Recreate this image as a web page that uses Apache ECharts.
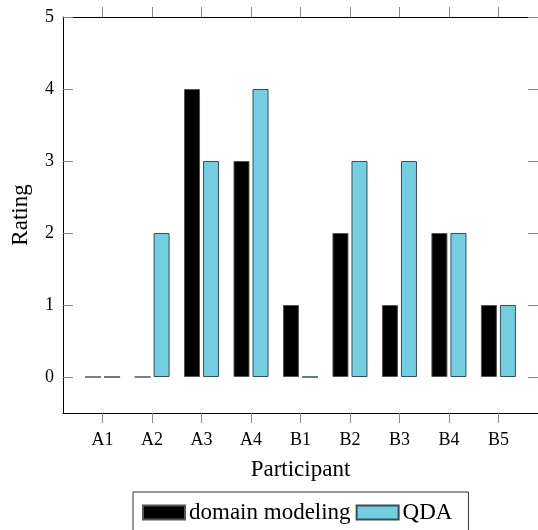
<!DOCTYPE html>
<html><head><meta charset="utf-8">
<script src="https://cdn.jsdelivr.net/npm/echarts@6/dist/echarts.min.js"></script>
<style>html,body{margin:0;padding:0;background:#fff}#c{width:538px;height:530px}</style>
</head><body><div id="c"></div>
<script>
const categories = ['A1','A2','A3','A4','B1','B2','B3','B4','B5'];
const domainModeling = [0,0,4,3,1,2,1,2,1];
const qda = [0,2,3,4,0,3,3,2,1];
const yTicks = [0,1,2,3,4,5];

const positions = categories.map((c,i)=>i);
const font = 'Liberation Serif';
const tickColor = '#8a8a8a';
const chart = echarts.init(document.getElementById('c'));
chart.setOption({
  animation:false,
  textStyle:{fontFamily:font},
  grid:{left:63, top:17, width:480, height:396},
  legend:{
    top:492, left:133,
    data:['domain modeling','QDA'],
    itemWidth:42, itemHeight:14, itemGap:5,
    padding:[9,16,14,9],
    borderColor:'#333', borderWidth:1,
    textStyle:{fontFamily:font, fontSize:23, color:'#000', padding:[0,0,0,-1]},
    icon:'rect'
  },
  xAxis:[{
    type:'value', min:-0.8, max:8.8, position:'bottom',
    name:'Participant', nameLocation:'middle', nameGap:45,
    nameTextStyle:{fontFamily:font, fontSize:23, color:'#000'},
    axisLine:{show:true, onZero:false, lineStyle:{color:'#000', width:1}},
    axisTick:{show:true, inside:false, length:10, customValues:positions, lineStyle:{color:tickColor}},
    axisLabel:{show:true, customValues:positions, margin:18, fontSize:18, color:'#000', fontFamily:font,
      formatter:v=>categories[Math.round(v)]},
    splitLine:{show:false}
  },{
    type:'value', min:-0.8, max:8.8, position:'top',
    axisLine:{show:true, onZero:false, lineStyle:{color:'#000', width:1}},
    axisTick:{show:true, inside:false, length:10, customValues:positions, lineStyle:{color:tickColor}},
    axisLabel:{show:false},
    splitLine:{show:false}
  }],
  yAxis:[{
    type:'value', min:-0.5, max:5, position:'left',
    name:'Rating', nameLocation:'middle', nameGap:31, nameRotate:90,
    nameTextStyle:{fontFamily:font, fontSize:23, color:'#000'},
    axisLine:{show:true, onZero:false, lineStyle:{color:'#000', width:1}},
    axisTick:{show:true, inside:true, length:10, customValues:yTicks, lineStyle:{color:tickColor}},
    axisLabel:{show:true, customValues:yTicks, margin:9, fontSize:18, color:'#000', fontFamily:font},
    splitLine:{show:false}
  },{
    type:'value', min:-0.5, max:5, position:'right',
    axisLine:{show:true, onZero:false, lineStyle:{color:'#000', width:1}},
    axisTick:{show:true, inside:true, length:10, customValues:yTicks, lineStyle:{color:tickColor}},
    axisLabel:{show:false},
    splitLine:{show:false}
  }],
  series:[{
    name:'domain modeling', type:'bar', xAxisIndex:0, yAxisIndex:0,
    barWidth:16, barGap:'19%',
    itemStyle:{color:'#000', borderColor:'#555', borderWidth:1},
    data:domainModeling.map((v,i)=>[positions[i], v])
  },{
    name:'QDA', type:'bar', xAxisIndex:0, yAxisIndex:0,
    barWidth:16, barGap:'19%',
    itemStyle:{color:'#75cde0', borderColor:'#33505a', borderWidth:1},
    data:qda.map((v,i)=>[positions[i], v])
  }]
});
</script></body></html>
